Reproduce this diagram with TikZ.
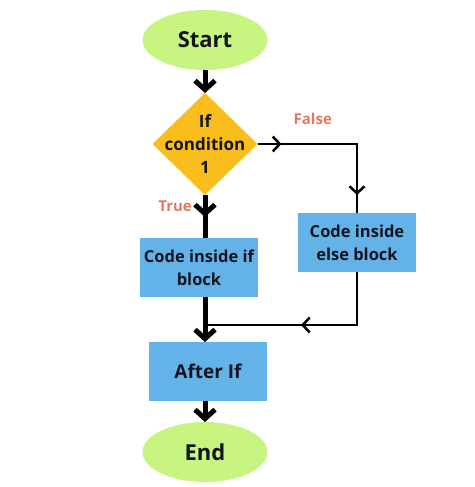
\documentclass[tikz,border=0pt]{standalone}
\usepackage{fontspec}
\setmainfont{Open Sans}
\usetikzlibrary{arrows.meta,positioning,shapes.geometric,decorations.markings}
\definecolor{termgreen}{HTML}{C8F582}
\definecolor{condgold}{HTML}{F9BE1C}
\definecolor{blockblue}{HTML}{64B3E8}
\definecolor{branchred}{HTML}{E07B5F}
\definecolor{ink}{HTML}{14141F}

\begin{document}
\begin{tikzpicture}[
                x=1pt, y=1pt,
                terminal/.style={ellipse, fill=termgreen, minimum width=125pt, minimum height=60pt, outer sep=0pt, text=ink, font=\bfseries\fontsize{22}{26}\selectfont},
                decision/.style={diamond, fill=condgold, minimum width=105pt, minimum height=102pt, inner sep=0pt, outer sep=0pt},
                condtext/.style={align=center, text=ink, font=\bfseries\fontsize{17}{23}\selectfont},
                block/.style={fill=blockblue, minimum width=118pt, minimum height=59pt, outer sep=0pt, align=center, text=ink, font=\bfseries\fontsize{16.5}{23}\selectfont},
                branch/.style={inner sep=0pt, text=branchred, font=\bfseries\fontsize{15}{18}\selectfont},
                arrow/.style={line width=5pt, -{Straight Barb[length=9pt, width=20pt]}},
                trunk/.style={line width=5pt},
                flow/.style={line width=2.5pt},
                bigmark/.style={postaction={decorate, decoration={markings, mark=at position #1 with {\arrow{Straight Barb[length=9pt, width=20pt]}}}}},
                smallmark/.style={postaction={decorate, decoration={markings, mark=at position #1 with {\arrow{Straight Barb[length=7pt, width=15pt]}}}}}
            ]

            \useasboundingbox (0,0) rectangle (474,-487);

            \node[terminal] (start) at (205,-40) {Start};

            \node[decision, below=23pt of start, label={[condtext]center:{If\\condition\\1}}] (cond) {};

            \node[block, below=43pt of cond, xshift=-6pt] (ifblock) {Code inside if\\block};

            \node[block, right=40pt of ifblock, yshift=25pt] (elseblock) {Code inside\\else block};

            \node[block, below=45pt of ifblock, xshift=9pt, font=\bfseries\fontsize{19}{23}\selectfont] (afterif) {After If};

            \node[terminal, below=21pt of afterif, xshift=-3pt] (end) {End};

            \coordinate (merge) at ([yshift=-28pt]cond.south |- ifblock.south);

            \draw[arrow] (start) -- (cond);
            \draw[trunk, bigmark=22pt] (cond) -- (cond |- ifblock.north);
            \draw[flow, smallmark=24pt, smallmark=-18pt] (cond) -| (elseblock);
            \draw[arrow] (cond |- ifblock.south) -- (cond |- afterif.north);
            \draw[flow, smallmark=109pt] (elseblock) |- (merge);
            \draw[arrow] (cond |- afterif.south) -- (end);

            \node[branch, above right=19pt and 36pt of cond.east] (falselabel) {False};
            \node[branch, below left=6pt and 13pt of cond.south] (truelabel) {True};

        \end{tikzpicture}
\end{document}
